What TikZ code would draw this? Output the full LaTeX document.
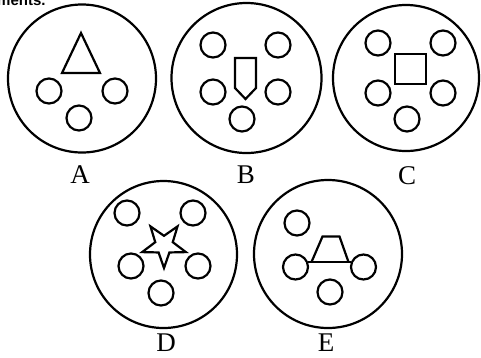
\documentclass[tikz,border=0pt]{standalone}
\usepackage{fontspec}
\setmainfont{Liberation Serif}
\newfontfamily\headfont{Liberation Sans}
\usetikzlibrary{shapes.geometric}

\begin{document}
\begin{tikzpicture}[
  x=1pt, y=-1pt,
  plate/.style={circle, draw, line width=2.2pt, minimum size=#1, inner sep=0pt},
  plate/.default=148pt,
  hole/.style={circle, draw, line width=2.2pt, minimum size=25pt, inner sep=0pt},
  tag/.style={anchor=base, font=\fontsize{27}{30}\selectfont, inner sep=0pt},
  figure/.style={draw, line width=2.2pt, line join=miter}
]
\useasboundingbox (0,0) rectangle (481,357);

% === Clipped heading (top edge) ===
\node[anchor=base west, inner sep=0pt, font=\headfont\bfseries\fontsize{15}{17}\selectfont] (head) at (-3,5) {ments.};

% === Plate A ===
\node[plate] (pa) at (82,78.5) {};
\node[hole] (a1) at (49,91) {};
\node[hole] (a2) at (115,91) {};
\node[hole] (a3) at (79,118) {};
\draw[figure] (81,33) -- (100,73) -- (62,73) -- cycle;
\node[tag] (la) at (80,183) {A};

% === Plate B ===
\node[plate=150pt] (pb) at (246.5,78) {};
\node[hole] (b1) at (213,45) {};
\node[hole] (b2) at (278,45) {};
\node[hole] (b3) at (213,92) {};
\node[hole] (b4) at (278,92) {};
\node[hole] (b5) at (242,119) {};
\draw[figure] (235,58) -- (256,58) -- (256,88) -- (245.5,99) -- (235,88) -- cycle;
\node[tag] (lb) at (246,183) {B};

% === Plate C ===
\node[plate=146pt] (pc) at (406,78) {};
\node[hole] (c1) at (378,43) {};
\node[hole] (c2) at (443,43) {};
\node[hole] (c3) at (378,93) {};
\node[hole] (c4) at (443,93) {};
\node[hole] (c5) at (407,119) {};
\draw[figure] (395,54) rectangle (426,84);
\node[tag] (lc) at (407,184) {C};

% === Plate D ===
\node[plate=147pt] (pd) at (163.5,254.5) {};
\node[hole] (d1) at (127,213) {};
\node[hole] (d2) at (193,213) {};
\node[hole] (d3) at (131,266) {};
\node[hole] (d4) at (198,266) {};
\node[hole] (d5) at (161,293) {};
\node[star, star points=5, star point ratio=2.5, minimum size=46pt, inner sep=0pt,
  shape border rotate=180, draw, line width=2.2pt] (ds) at (164,245) {};
\node[tag] (ld) at (166,351.5) {D};

% === Plate E ===
\node[plate] (pe) at (328,254) {};
\node[hole] (e1) at (297,223) {};
\node[hole] (e2) at (295.5,267) {};
\node[hole] (e3) at (363.5,267) {};
\node[hole] (e4) at (330,292) {};
\draw[figure] (e2.23) -- (e3.157);
\draw[figure] (311.5,262) -- (322.5,236.5) -- (339.5,236.5) -- (348.5,262);
\node[tag] (le) at (326,351.5) {E};

\end{tikzpicture}
\end{document}
